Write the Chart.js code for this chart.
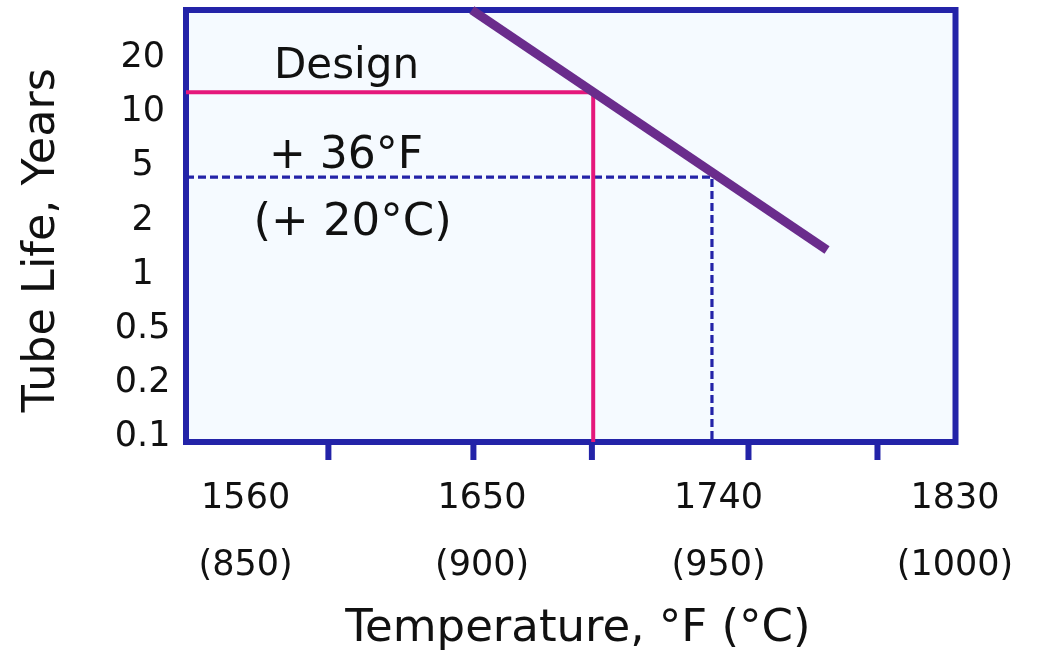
<!DOCTYPE html>
<html>
<head>
<meta charset="utf-8">
<script src="https://cdn.jsdelivr.net/npm/chart.js@4/dist/chart.umd.min.js"></script>
<style>
  html, body { margin: 0; padding: 0; background: #ffffff; }
  canvas { display: block; }
</style>
</head>
<body>
<canvas id="chart" width="1041" height="655"></canvas>
<script>
// Tube life ladder in years: each step is drawn the same height on the vertical axis
const lifeTicks = [0.1, 0.2, 0.5, 1, 2, 5, 10, 20];

// Temperature labels, °F with °C below
const tempTicksF = [1560, 1650, 1740, 1830];
const tempTicksC = [850, 900, 950, 1000];

// Short marks hanging below the frame
const tickMarksF = [1591.5, 1646.7, 1691.8, 1751.4, 1800.5];

// Creep-life line (temperature °F, life in years)
const lifeLineTempF = [1646.1, 1781.3];
const lifeLineYears = [37, 1.37];

// Design point and the over-temperature point
const designTempF = [1692.3];
const designLifeYears = [12.9];
const overTempF = [1737.5];
const overLifeYears = [4.17];

// Notes written inside the plot
const noteTexts = ['Design', '+ 36°F', '(+ 20°C)'];
const noteTempF = [1598.4, 1598.2, 1600.7];
const noteYears = [15.5, 4.85, 1.66];

// Axis extents
const X_MIN = 1537.3, X_MAX = 1830.2;
const Y_MIN = -0.092, Y_MAX = 7.887;

const FONT = "'DejaVu Sans', Verdana, sans-serif";
const FRAME_BLUE = '#2323a8';

// Place a life value (years) on the evenly stepped ladder
function lifePos(years) {
  const n = lifeTicks.length;
  if (years >= lifeTicks[n - 1]) {
    return n - 1 + Math.log(years / lifeTicks[n - 1]) / Math.log(lifeTicks[n - 1] / lifeTicks[n - 2]);
  }
  if (years <= lifeTicks[0]) {
    return Math.log(years / lifeTicks[0]) / Math.log(lifeTicks[1] / lifeTicks[0]);
  }
  for (let i = 0; i < n - 1; i++) {
    if (years <= lifeTicks[i + 1]) {
      return i + Math.log(years / lifeTicks[i]) / Math.log(lifeTicks[i + 1] / lifeTicks[i]);
    }
  }
}

// Background, frame, hanging tick marks and notes
const framePlugin = {
  id: 'frame',
  beforeDatasetsDraw(chart) {
    const { ctx, chartArea: a, scales: { x } } = chart;
    ctx.save();
    ctx.fillStyle = '#f5faff';
    ctx.fillRect(a.left, a.top, a.right - a.left, a.bottom - a.top);
    ctx.strokeStyle = FRAME_BLUE;
    ctx.lineWidth = 6;
    ctx.lineJoin = 'miter';
    ctx.strokeRect(a.left, a.top, a.right - a.left, a.bottom - a.top);
    ctx.beginPath();
    tickMarksF.forEach(t => {
      const px = x.getPixelForValue(t);
      ctx.moveTo(px, a.bottom);
      ctx.lineTo(px, a.bottom + 18);
    });
    ctx.lineWidth = 6;
    ctx.stroke();
    ctx.restore();
  },
  afterDatasetsDraw(chart) {
    const { ctx, scales: { x, y } } = chart;
    const sizes = [42, 44, 45];
    ctx.save();
    ctx.fillStyle = '#111111';
    ctx.textAlign = 'center';
    ctx.textBaseline = 'alphabetic';
    noteTexts.forEach((txt, i) => {
      ctx.font = sizes[i] + 'px ' + FONT;
      ctx.fillText(txt, x.getPixelForValue(noteTempF[i]), y.getPixelForValue(lifePos(noteYears[i])));
    });
    ctx.restore();
  }
};

const lifeLine = lifeLineTempF.map((t, i) => ({ x: t, y: lifePos(lifeLineYears[i]) }));
const designPath = [
  { x: X_MIN, y: lifePos(designLifeYears[0]) },
  { x: designTempF[0], y: lifePos(designLifeYears[0]) },
  { x: designTempF[0], y: Y_MIN }
];
const overPath = [
  { x: X_MIN, y: lifePos(overLifeYears[0]) },
  { x: overTempF[0], y: lifePos(overLifeYears[0]) },
  { x: overTempF[0], y: Y_MIN }
];

new Chart(document.getElementById('chart'), {
  type: 'line',
  data: {
    datasets: [
      {
        data: lifeLine,
        borderColor: '#6a2c8c',
        borderWidth: 9,
        borderCapStyle: 'butt',
        pointRadius: 0,
        clip: false
      },
      {
        data: designPath,
        borderColor: '#e5177b',
        borderWidth: 4,
        borderJoinStyle: 'miter',
        pointRadius: 0,
        clip: false
      },
      {
        data: overPath,
        borderColor: FRAME_BLUE,
        borderWidth: 3.2,
        borderDash: [8, 4],
        pointRadius: 0,
        clip: false
      }
    ]
  },
  options: {
    responsive: false,
    animation: false,
    devicePixelRatio: 1,
    layout: { padding: { top: 10, right: 85.5, bottom: 0, left: 0 } },
    plugins: { legend: { display: false }, tooltip: { enabled: false } },
    scales: {
      x: {
        type: 'linear',
        position: 'bottom',
        min: X_MIN,
        max: X_MAX,
        grid: { display: false, drawTicks: false },
        border: { display: false },
        afterBuildTicks: s => { s.ticks = tempTicksF.map(v => ({ value: v })); },
        ticks: {
          autoSkip: false,
          maxRotation: 0,
          padding: 22.75,
          color: '#111111',
          font: { family: FONT, size: 35, lineHeight: '67.5px' },
          callback: (v, i) => [String(tempTicksF[i]), '(' + tempTicksC[i] + ')']
        },
        title: {
          display: true,
          text: ' Temperature, °F (°C)',
          color: '#111111',
          font: { family: FONT, size: 45, lineHeight: 1.1 },
          padding: { top: 0, bottom: 1 }
        },
        afterFit: s => { s.height = 213; s.paddingLeft = 0; s.paddingRight = 0; }
      },
      y: {
        type: 'linear',
        min: Y_MIN,
        max: Y_MAX,
        grid: { display: false, drawTicks: false },
        border: { display: false },
        afterBuildTicks: s => { s.ticks = lifeTicks.map((_, i) => ({ value: i })); },
        ticks: {
          autoSkip: false,
          crossAlign: 'center',
          padding: 15.5,
          color: '#111111',
          font: { family: FONT, size: 35 },
          callback: (v, i) => String(lifeTicks[i])
        },
        title: {
          display: true,
          text: 'Tube Life, Years  ',
          color: '#111111',
          font: { family: FONT, size: 44.5, lineHeight: 1.1 },
          padding: { top: 17.8, bottom: 0 }
        },
        afterFit: s => { s.width = 186; s.paddingTop = 0; s.paddingBottom = 0; }
      }
    }
  },
  plugins: [framePlugin]
});
</script>
</body>
</html>
